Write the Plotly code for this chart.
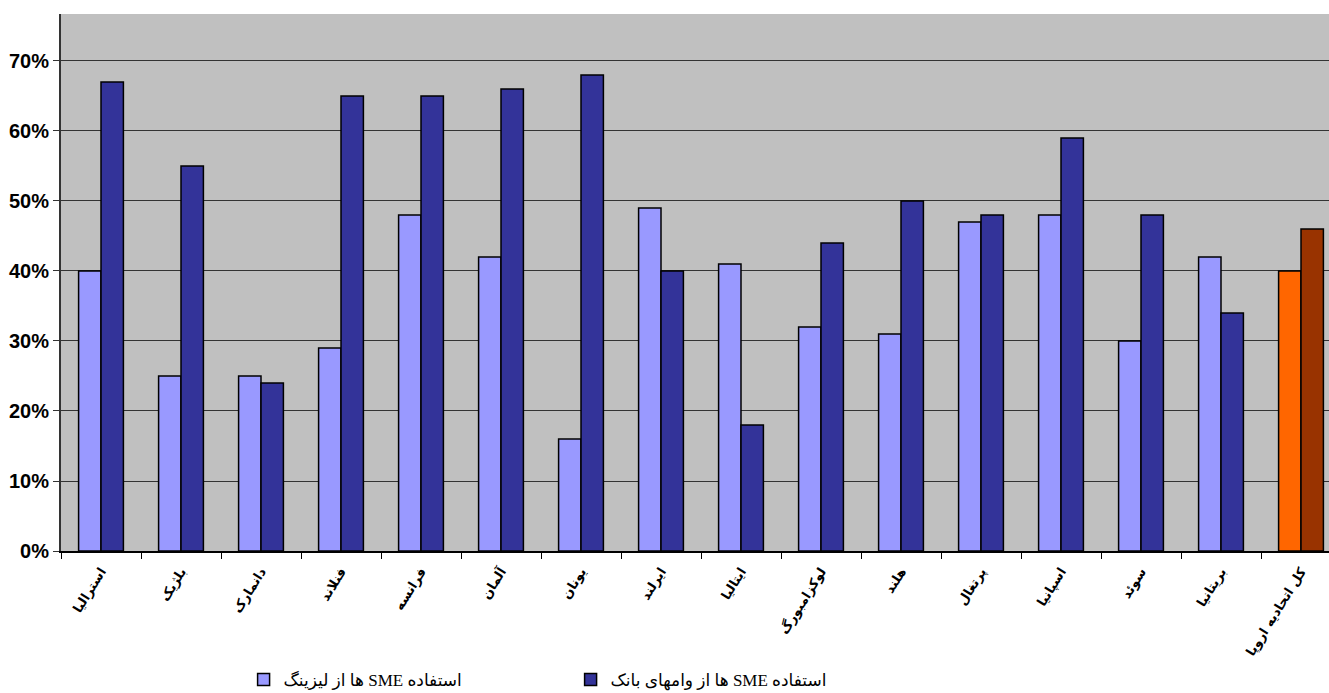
import plotly.graph_objects as go

categories = ["استرالیا", "بلژیک", "دانمارک", "فنلاند", "فرانسه", "آلمان", "یونان", "ایرلند",
              "ایتالیا", "لوکزامبورگ", "هلند", "پرتغال", "اسپانیا", "سوئد", "بریتانیا", "کل اتحادیه اروپا"]
leasing = [0.40, 0.25, 0.25, 0.29, 0.48, 0.42, 0.16, 0.49, 0.41, 0.32, 0.31, 0.47, 0.48, 0.30, 0.42, 0.40]
bank = [0.67, 0.55, 0.24, 0.65, 0.65, 0.66, 0.68, 0.40, 0.18, 0.44, 0.50, 0.48, 0.59, 0.48, 0.34, 0.46]
series_names = ["استفاده SME ها از لیزینگ", "استفاده SME ها از وامهای بانک"]
y_ticks = [0, 0.1, 0.2, 0.3, 0.4, 0.5, 0.6, 0.7]

RLE, PDF = "\u202B", "\u202C"

leasing_colors = ["#9999FF"] * (len(categories) - 1) + ["#FF6600"]
bank_colors = ["#333399"] * (len(categories) - 1) + ["#993300"]

fig = go.Figure()
fig.add_trace(go.Bar(x=categories, y=leasing, name=RLE + series_names[0] + PDF,
                     marker=dict(color=leasing_colors, line=dict(color="black", width=1.5))))
fig.add_trace(go.Bar(x=categories, y=bank, name=RLE + series_names[1] + PDF,
                     marker=dict(color=bank_colors, line=dict(color="black", width=1.5))))

fig.update_layout(
    width=1329, height=693,
    margin=dict(l=61, r=0, t=14, b=142, autoexpand=False),
    paper_bgcolor="white", plot_bgcolor="#C0C0C0",
    barmode="group", bargap=0.44, bargroupgap=0,
    showlegend=True,
    legend=dict(orientation="h", x=0.144, y=-0.24, xanchor="left", yanchor="middle",
                font=dict(family="Liberation Serif, DejaVu Sans", size=17, color="black"),
                entrywidth=282, entrywidthmode="pixels",
                bgcolor="rgba(0,0,0,0)", traceorder="normal"),
)
fig.update_xaxes(
    type="category", range=[-0.5, 15.35], automargin=False,
    showline=True, linecolor="black", linewidth=1.5,
    ticks="outside", tickson="boundaries", ticklen=6, tickcolor="black", tickwidth=1,
    tickangle=-58, ticklabelstandoff=6,
    tickfont=dict(family="DejaVu Sans", size=13, color="black", weight="bold"),
    showgrid=False,
)
fig.update_yaxes(
    range=[0, 0.7671], tickvals=y_ticks, tickformat=".0%", automargin=False,
    showline=True, linecolor="#333333", linewidth=2,
    ticks="outside", ticklen=6, tickcolor="#333333",
    tickfont=dict(family="Liberation Sans", size=20, color="black", weight="bold"),
    showgrid=True, gridcolor="#333333", gridwidth=1,
    zeroline=False,
)

fig.write_html("out.html", config={"displayModeBar": False},
               post_script="document.body.style.margin='0';document.body.style.overflow='hidden';")
